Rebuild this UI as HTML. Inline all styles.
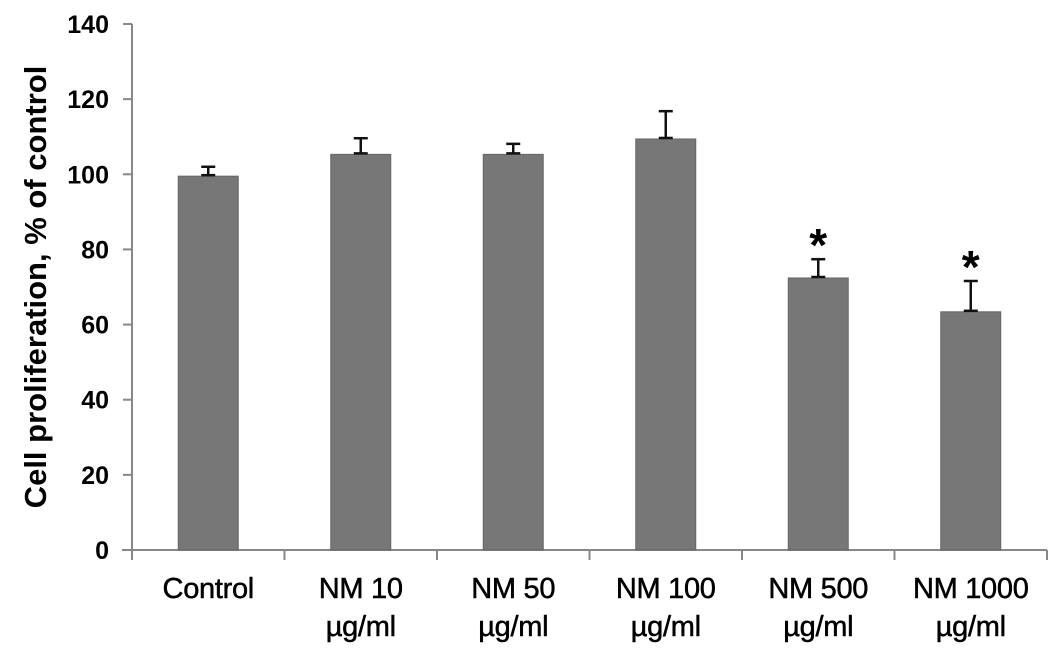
<!DOCTYPE html>
<html><head><meta charset="utf-8"><style>
html,body{margin:0;padding:0;background:#fff;}
svg{display:block;font-family:"Liberation Sans",Arial,sans-serif;}
</style></head><body>
<svg id="chart" width="1063" height="656" viewBox="0 0 1063 656">
<g id="axes"></g><g id="bars"></g>
<text x="0" y="0" transform="translate(46,287) rotate(-90)" text-anchor="middle" font-size="31" font-weight="bold" fill="#000">Cell proliferation, % of control</text>
</svg>
<script>
const categories = [["Control"],["NM 10","µg/ml"],["NM 50","µg/ml"],["NM 100","µg/ml"],["NM 500","µg/ml"],["NM 1000","µg/ml"]];
const values = [99.5, 105.3, 105.3, 109.4, 72.4, 63.4];
const errors = [2.5, 4.3, 2.8, 7.4, 5.0, 8.2];
const significant = [false,false,false,false,true,true];
const yTicks = [0,20,40,60,80,100,120,140];
const NS="http://www.w3.org/2000/svg";
const x0=132,x1=1047,yBase=550,yTop=24,yMax=140;
const bw=(x1-x0)/categories.length;
function y(v){return yBase-(v/yMax)*(yBase-yTop);}
function xc(i){return x0+bw*(i+0.5);}
function mk(tag,attrs,parent){const e=document.createElementNS(NS,tag);for(const k in attrs)e.setAttribute(k,attrs[k]);parent.appendChild(e);return e;}
const axes=document.getElementById('axes'),bars=document.getElementById('bars');
let a=mk('line',{x1:x0,y1:y(yMax),x2:x0,y2:yBase+8,stroke:'#888','stroke-width':2},axes);


a=mk('line',{x1:x0-10,y1:yBase,x2:x1,y2:yBase,stroke:'#888','stroke-width':2},axes);


yTicks.forEach(t=>{
 const tk=mk('line',{x1:x0-9,y1:y(t),x2:x0,y2:y(t),stroke:'#888','stroke-width':2},axes);
 
 
 const tl=mk('text',{x:x0-23,y:y(t)+9,'text-anchor':'end','font-size':25,'font-weight':'bold',fill:'#000'},axes);
 tl.textContent=t;
 
 
});
for(let i=0;i<=categories.length;i++){
 const tk=mk('line',{x1:x0+bw*i,y1:yBase,x2:x0+bw*i,y2:yBase+10,stroke:'#888','stroke-width':2},axes);
 
 
}
categories.forEach((c,i)=>{
 const cx=xc(i);
 const r=mk('rect',{x:cx-30,y:y(values[i]),width:60,height:yBase-y(values[i]),fill:'#777',stroke:'#666','stroke-width':1},bars);
 
 
 const eg=mk('g',{stroke:'#111','stroke-width':2.5},bars);
 
 
 const et=y(values[i]+errors[i]);
 mk('line',{x1:cx,y1:y(values[i]),x2:cx,y2:et},eg);
 mk('line',{x1:cx-7,y1:et,x2:cx+7,y2:et},eg);
 mk('line',{x1:cx-7,y1:y(values[i])-1,x2:cx+7,y2:y(values[i])-1},eg);
 if(significant[i]){
  const s=mk('text',{x:cx,y:et+2,'text-anchor':'middle','font-size':46,'font-weight':'bold',fill:'#000'},bars);
  s.textContent='*';
  
  
 }
 c.forEach((line,j)=>{
  const t=mk('text',{x:cx,y:598+j*38,'text-anchor':'middle','font-size':29,'letter-spacing':-0.3,fill:'#000',stroke:'#000','stroke-width':0.5},axes);
  t.textContent=line;
  
  
 });
});
</script>
</body></html>
